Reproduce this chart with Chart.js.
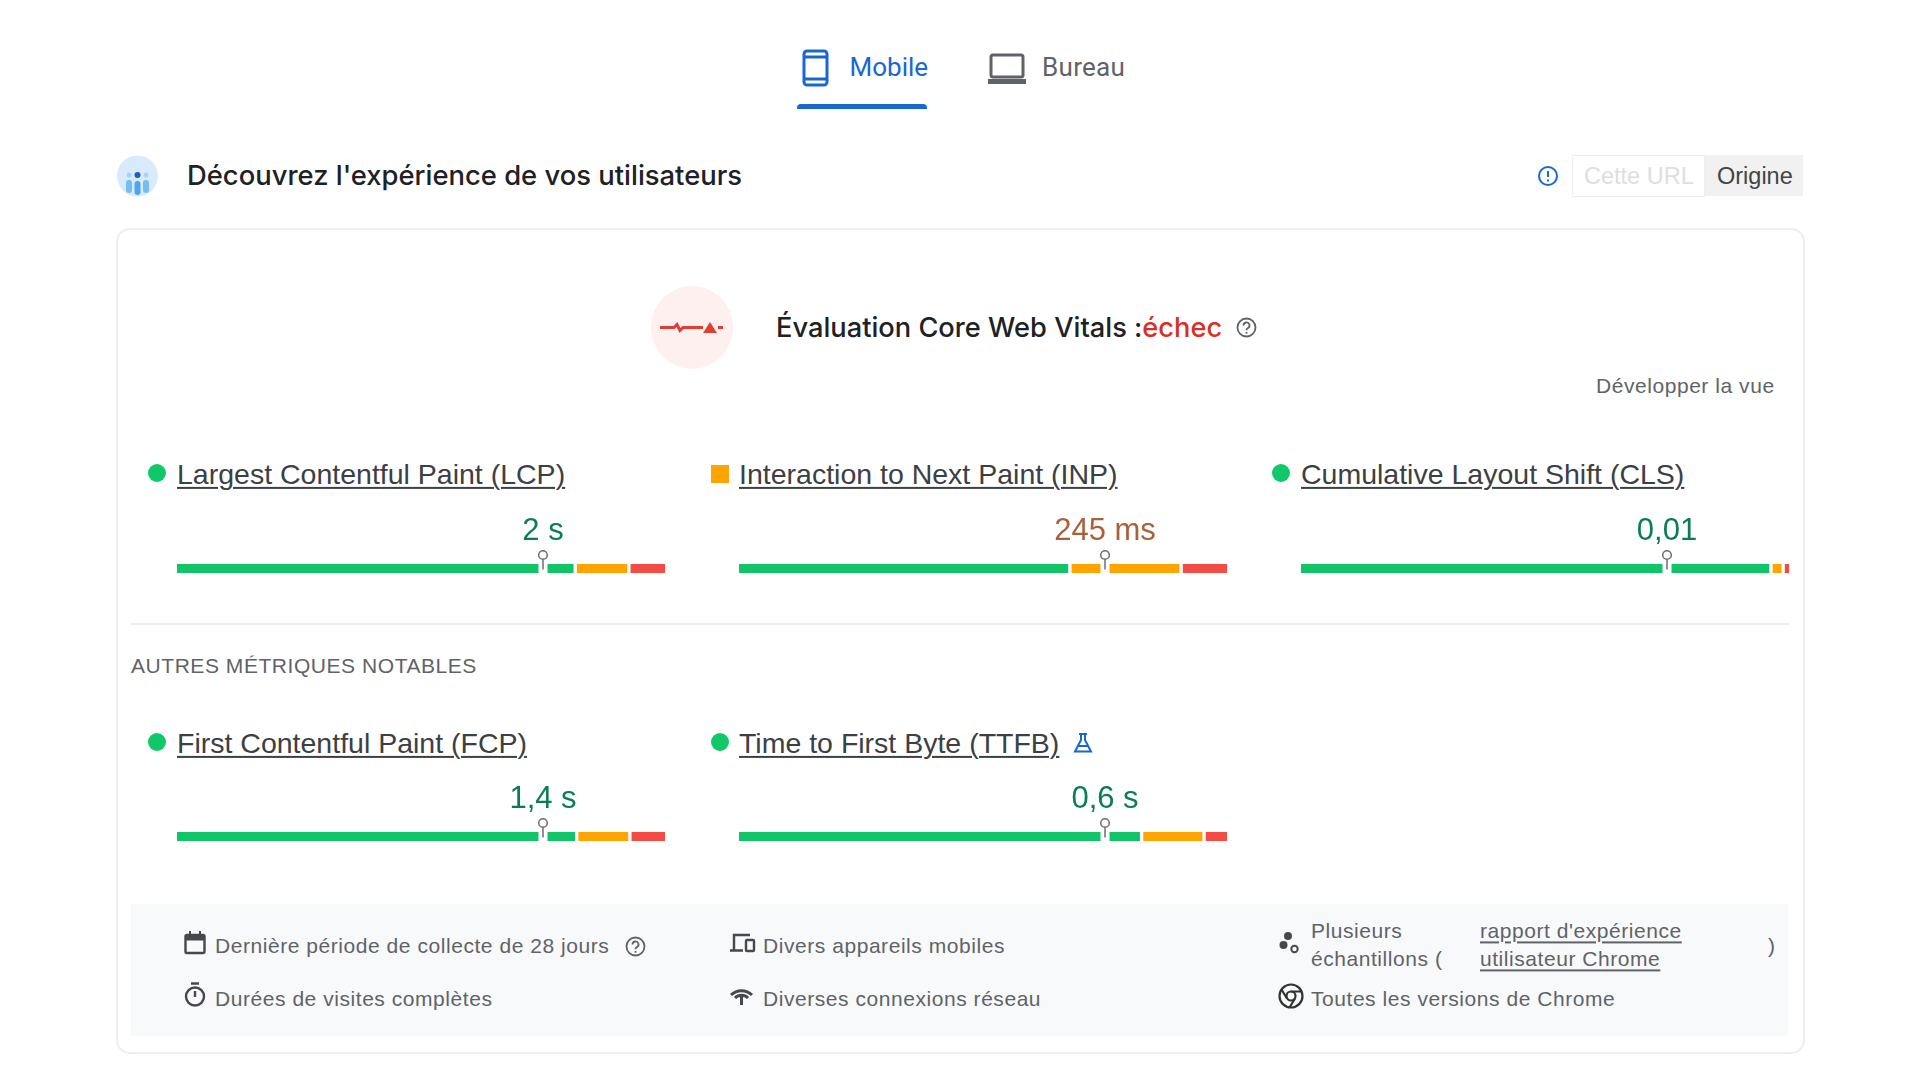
<!DOCTYPE html>
<html lang="fr">
<head>
<meta charset="utf-8">
<title>Core Web Vitals</title>
<script src="https://cdn.jsdelivr.net/npm/chart.js@4"></script>
<style>
  html, body { margin: 0; width: 1920px; height: 1080px; background: #fff; overflow: hidden; }
  body { position: relative; font-family: "Liberation Sans", Arial, sans-serif; }
  .t { position: absolute; white-space: nowrap; transform: translateY(-50%); line-height: 1.2; }
  .abs { position: absolute; }
  .tab { font: 400 26px Roboto, sans-serif; letter-spacing: .3px; }
  .metric { font-size: 28.5px; color: #3c4043; text-decoration: underline; text-decoration-thickness: 1.5px; text-underline-offset: 3px; }
  .small { font-size: 21px; letter-spacing: .55px; color: #5f6368; }
  .link { text-decoration: underline; text-underline-offset: 3px; }
  .dot { position: absolute; width: 18px; height: 18px; border-radius: 50%; background: #0fc869; }
  .square { position: absolute; width: 18px; height: 18px; background: #ffa400; }
  .bar { position: absolute; width: 488px; height: 127px; }
  svg { position: absolute; overflow: visible; }
</style>
</head>
<body>

<!-- tabs -->
<svg style="left:802px;top:49px" width="28" height="38" viewBox="0 0 28 38" fill="none" stroke="#1967d2" stroke-width="3">
  <rect x="2" y="2" width="23" height="34" rx="3"/><path d="M2 8h23M2 30h23"/>
</svg>
<div class="t tab" style="left:849.5px;top:67px;color:#1967d2;letter-spacing:0">Mobile</div>
<div class="abs" style="left:797px;top:104px;width:130px;height:5px;background:#1967d2;border-radius:4px 4px 0 0"></div>
<svg style="left:988px;top:53px" width="38" height="32" viewBox="0 0 38 32" fill="none" stroke="#5f6368" stroke-width="3">
  <rect x="3" y="2" width="32" height="22" rx="2"/><path d="M0 28.5h38" stroke-width="5"/>
</svg>
<div class="t tab" style="left:1042px;top:67px;color:#5f6368">Bureau</div>

<!-- section header -->
<svg style="left:117px;top:155px" width="41" height="42" viewBox="0 0 41 42">
  <circle cx="20.5" cy="21" r="20.5" fill="#d8eafb"/>
  <rect x="9" y="25" width="6" height="13" rx="3" fill="#74bdf2"/>
  <rect x="17.5" y="26" width="6" height="14" rx="3" fill="#4aa6ee"/>
  <rect x="26" y="25" width="6" height="13" rx="3" fill="#74bdf2"/>
  <circle cx="20.5" cy="20" r="3" fill="#1a5fc4"/>
  <circle cx="12" cy="20" r="2.4" fill="#a6d4f6"/><circle cx="29" cy="20" r="2.4" fill="#a6d4f6"/>
</svg>
<div class="t" style="left:187px;top:175px;font:500 27.4px Inter,sans-serif;color:#202124">Découvrez l'expérience de vos utilisateurs</div>
<svg style="left:1538px;top:166px" width="20" height="20" viewBox="0 0 20 20" fill="none" stroke="#1967d2" stroke-width="2">
  <circle cx="10" cy="10" r="9"/><path d="M10 5v6M10 13.5v2"/>
</svg>
<div class="abs" style="left:1572px;top:155px;width:131px;height:40px;border:1px solid #eee;background:#fff"></div>
<div class="abs" style="left:1705px;top:155px;width:98px;height:41px;background:#f1f1f1"></div>
<div class="t" style="left:1584px;top:176px;font-size:23.5px;color:#dedede">Cette URL</div>
<div class="t" style="left:1717px;top:176px;font-size:23.5px;color:#444">Origine</div>

<!-- card -->
<div class="abs" style="left:116px;top:228px;width:1685px;height:822px;border:2px solid #eeeeee;border-radius:14px"></div>
<svg style="left:651px;top:286px" width="82" height="83" viewBox="0 0 82 83">
  <ellipse cx="41" cy="41.5" rx="41" ry="41.5" fill="#fdf0ee"/>
  <path d="M9 41.5h14l3-3 3 6 3-3h20" fill="none" stroke="#e23d33" stroke-width="3"/>
  <path d="M52 47l7-11 7 11z" fill="#e23d33"/><rect x="67" y="40" width="5" height="3" fill="#e23d33"/>
</svg>
<div class="t" style="left:776px;top:327px;font:500 27.25px Inter,sans-serif;color:#202124">Évaluation Core Web Vitals :<span style="color:#d93025">échec</span></div>
<svg style="left:1236px;top:317px" width="21" height="21" viewBox="0 0 21 21" fill="none" stroke="#5f6368" stroke-width="1.8">
  <circle cx="10.5" cy="10.5" r="9"/><path d="M7.5 8.5a3 3 0 1 1 4.4 2.6c-1 .6-1.4 1-1.4 2.2M10.5 15v1.8"/>
</svg>
<div class="t small" style="left:1596px;top:386px">Développer la vue</div>

<!-- metric headings -->
<div class="dot" style="left:148px;top:464px"></div>
<div class="t metric" style="left:177px;top:474px">Largest Contentful Paint (LCP)</div>
<div class="square" style="left:711px;top:465px"></div>
<div class="t metric" style="left:739px;top:474px">Interaction to Next Paint (INP)</div>
<div class="dot" style="left:1272px;top:464px"></div>
<div class="t metric" style="left:1301px;top:474px">Cumulative Layout Shift (CLS)</div>

<div class="bar" style="left:177px;top:505px"><canvas id="chart-lcp"></canvas></div>
<div class="bar" style="left:739px;top:505px"><canvas id="chart-inp"></canvas></div>
<div class="bar" style="left:1301px;top:505px"><canvas id="chart-cls"></canvas></div>

<div class="abs" style="left:131px;top:623px;width:1658px;height:1.5px;background:#ececec"></div>
<div class="t small" style="left:131px;top:666px">AUTRES MÉTRIQUES NOTABLES</div>

<div class="dot" style="left:148px;top:733px"></div>
<div class="t metric" style="left:177px;top:743px">First Contentful Paint (FCP)</div>
<div class="dot" style="left:711px;top:733px"></div>
<div class="t metric" style="left:739px;top:743px">Time to First Byte (TTFB)</div>
<svg style="left:1073px;top:733px" width="20" height="20" viewBox="0 0 20 20" fill="none" stroke="#1967d2" stroke-width="2">
  <path d="M6 1h8M8 1v6L2 18.5h16L12 7V1M5 13h10"/>
</svg>

<div class="bar" style="left:177px;top:773px"><canvas id="chart-fcp"></canvas></div>
<div class="bar" style="left:739px;top:773px"><canvas id="chart-ttfb"></canvas></div>

<!-- footer panel -->
<div class="abs" style="left:131px;top:904px;width:1657px;height:132px;background:#f8f9fb"></div>
<svg style="left:184px;top:931px" width="22" height="24" viewBox="0 0 22 24" fill="none" stroke="#45484c" stroke-width="2.4">
  <rect x="1.5" y="4" width="19" height="18" rx="1.5"/><path d="M1.5 7h19" stroke-width="5"/><path d="M6 0v4M16 0v4" stroke-width="2"/>
</svg>
<div class="t small" style="left:215px;top:946px">Dernière période de collecte de 28 jours</div>
<svg style="left:625px;top:936px" width="21" height="21" viewBox="0 0 21 21" fill="none" stroke="#5f6368" stroke-width="1.8">
  <circle cx="10.5" cy="10.5" r="9"/><path d="M7.5 8.5a3 3 0 1 1 4.4 2.6c-1 .6-1.4 1-1.4 2.2M10.5 15v1.8"/>
</svg>
<svg style="left:730px;top:933px" width="26" height="20" viewBox="0 0 26 20" fill="none" stroke="#45484c" stroke-width="2.4">
  <path d="M4 17V2h16M0 17.5h13"/><rect x="16" y="7" width="8" height="11" rx="1"/>
</svg>
<div class="t small" style="left:763px;top:946px">Divers appareils mobiles</div>
<svg style="left:1279px;top:931px" width="22" height="23" viewBox="0 0 22 23">
  <circle cx="9" cy="5" r="4" fill="#45484c"/><circle cx="4.5" cy="14" r="4" fill="#45484c"/>
  <circle cx="15.5" cy="18" r="3.2" fill="none" stroke="#45484c" stroke-width="2"/>
</svg>
<div class="t small" style="left:1311px;top:931px">Plusieurs</div>
<div class="t small" style="left:1311px;top:959px">échantillons (</div>
<div class="t small link" style="left:1480px;top:931px">rapport d'expérience</div>
<div class="t small link" style="left:1480px;top:959px">utilisateur Chrome</div>
<div class="t small" style="left:1768px;top:946px">)</div>

<svg style="left:184px;top:982px" width="22" height="25" viewBox="0 0 22 25" fill="none" stroke="#45484c" stroke-width="2.4">
  <circle cx="11" cy="14.5" r="9"/><path d="M7 1.5h8M11 9v6"/>
</svg>
<div class="t small" style="left:215px;top:999px">Durées de visites complètes</div>
<svg style="left:730px;top:987px" width="23" height="19" viewBox="0 0 23 19" fill="none" stroke="#45484c" stroke-width="3">
  <path d="M1 8a15 15 0 0 1 21 0M5 11a9 9 0 0 1 13 0M11.5 8v10"/>
</svg>
<div class="t small" style="left:763px;top:999px">Diverses connexions réseau</div>
<svg style="left:1278px;top:983px" width="26" height="26" viewBox="0 0 26 26" fill="none" stroke="#333" stroke-width="2.2">
  <circle cx="13" cy="13" r="11.5"/><circle cx="13" cy="13" r="4.5"/><path d="M13 8.5h11M9 15.5L3.5 6.5M17 15.5L11.5 24.5"/>
</svg>
<div class="t small" style="left:1311px;top:999px">Toutes les versions de Chrome</div>

<script>
const metricIds = ["lcp", "inp", "cls", "fcp", "ttfb"];
const goodShare = [81.6, 67.8, 96.3, 81.9, 82.5];
const averageShare = [11.0, 22.8, 2.5, 10.9, 12.8];
const poorShare = [7.4, 9.4, 1.2, 7.2, 4.7];
const p75Position = [75, 75, 75, 75, 75];
const valueLabels = ["2 s", "245 ms", "0,01", "1,4 s", "0,6 s"];
const valueStatus = ["good", "average", "good", "good", "good"];

const statusColors = { good: "#0b7d56", average: "#a9603b" };

// white notch in the bar, then the pin and the p75 value above it
const p75Marker = {
  id: "p75Marker",
  afterDatasetsDraw(chart, args, opts) {
    const ctx = chart.ctx;
    const x = chart.scales.x.getPixelForValue(opts.position);
    const barY = chart.getDatasetMeta(0).data[0].y;
    ctx.save();
    ctx.fillStyle = "#fff";
    ctx.fillRect(x - 4.5, barY - 6, 9, 12);
    ctx.strokeStyle = "#6a6e72";
    ctx.lineWidth = 1.5;
    ctx.beginPath();
    ctx.moveTo(x, barY - 9);
    ctx.lineTo(x, barY + 1);
    ctx.stroke();
    ctx.beginPath();
    ctx.arc(x, barY - 13.5, 4.3, 0, Math.PI * 2);
    ctx.fill();
    ctx.stroke();
    ctx.fillStyle = opts.color;
    ctx.font = '31px "Liberation Sans", Arial, sans-serif';
    ctx.textAlign = "center";
    ctx.textBaseline = "middle";
    ctx.fillText(opts.label, x, barY - 37.5);
    ctx.restore();
  },
};

metricIds.forEach((id, i) => {
  new Chart(document.getElementById("chart-" + id), {
    type: "bar",
    data: {
      labels: [id],
      datasets: [
        { data: [goodShare[i]], backgroundColor: "#11c468", borderColor: "#fff", borderSkipped: false, borderWidth: { left: 0, right: 2, top: 0, bottom: 0 } },
        { data: [averageShare[i]], backgroundColor: "#ffa400", borderColor: "#fff", borderSkipped: false, borderWidth: { left: 2, right: 2, top: 0, bottom: 0 } },
        { data: [poorShare[i]], backgroundColor: "#f44c44", borderColor: "#fff", borderSkipped: false, borderWidth: { left: 2, right: 0, top: 0, bottom: 0 } },
      ],
    },
    plugins: [p75Marker],
    options: {
      indexAxis: "y",
      responsive: true,
      maintainAspectRatio: false,
      animation: false,
      barThickness: 9,
      layout: { padding: 0 },
      scales: {
        x: { stacked: true, display: false, min: 0, max: 100 },
        y: { stacked: true, display: false },
      },
      plugins: {
        legend: { display: false },
        tooltip: { enabled: false },
        p75Marker: {
          position: p75Position[i],
          label: valueLabels[i],
          color: statusColors[valueStatus[i]],
        },
      },
    },
  });
});
</script>
</body>
</html>
